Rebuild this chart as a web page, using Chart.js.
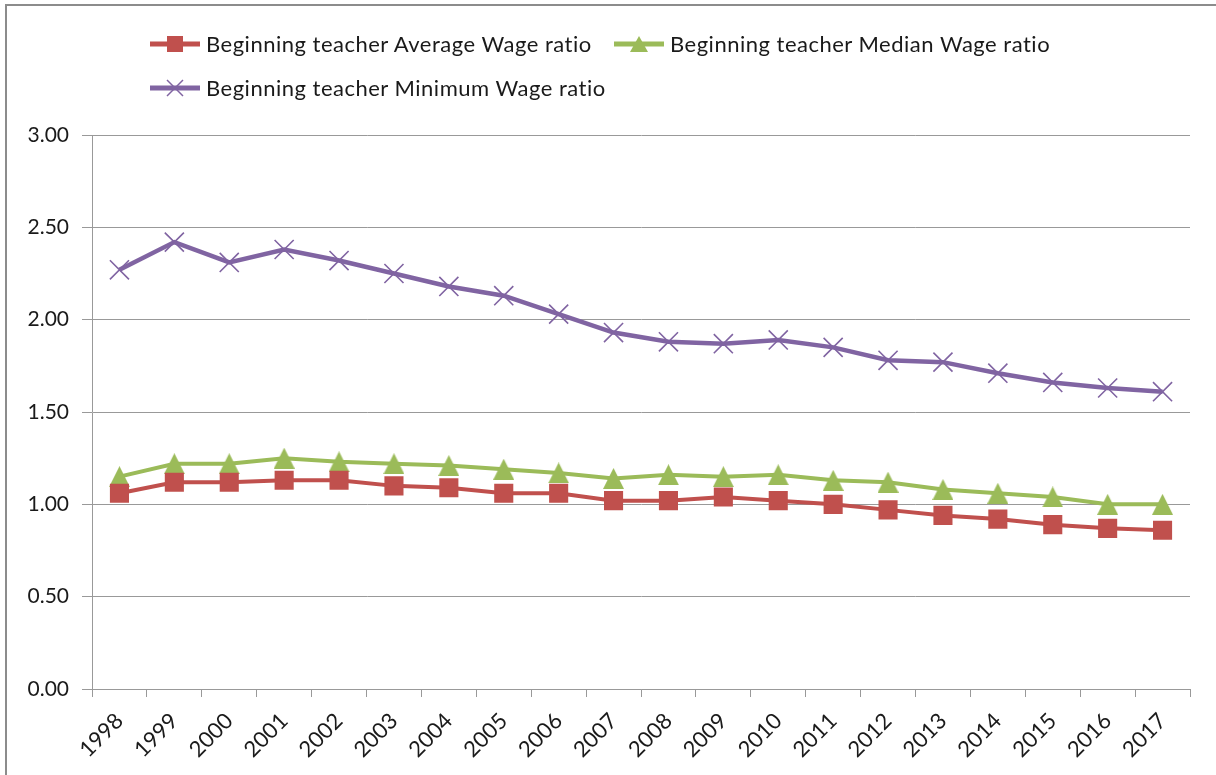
<!DOCTYPE html>
<html>
<head>
<meta charset="utf-8">
<script src="https://cdn.jsdelivr.net/npm/chart.js@4.4.0/dist/chart.umd.min.js"></script>
<style>
  html, body { margin: 0; padding: 0; background: #fff; }
  #wrap { position: relative; width: 1216px; height: 775px; overflow: hidden; }
  #frame { position: absolute; left: 5px; top: 4px; width: 1300px; height: 900px;
           border-left: 2px solid #8c8c8c; border-top: 2px solid #8c8c8c; pointer-events: none; }
  canvas { position: absolute; left: 0; top: 0; }
  .lg { position: absolute; font-family: Lato, "Open Sans", sans-serif; font-size: 22px; color: #1a1a1a;
        letter-spacing: 0.5px; white-space: nowrap; line-height: 24px; }
  .lg svg { position: absolute; left: 0; top: 0; }
  .lg span { position: absolute; left: 56px; top: 0; }
</style>
</head>
<body>
<div id="wrap">
  <canvas id="c" width="1216" height="775"></canvas>
  <div id="frame"></div>
  <div id="legend"></div>
</div>
<script>
const years = ["1998","1999","2000","2001","2002","2003","2004","2005","2006","2007","2008","2009","2010","2011","2012","2013","2014","2015","2016","2017"];
const averageRatio = [1.06, 1.12, 1.12, 1.13, 1.13, 1.10, 1.09, 1.06, 1.06, 1.02, 1.02, 1.04, 1.02, 1.00, 0.97, 0.94, 0.92, 0.89, 0.87, 0.86];
const medianRatio  = [1.15, 1.22, 1.22, 1.25, 1.23, 1.22, 1.21, 1.19, 1.17, 1.14, 1.16, 1.15, 1.16, 1.13, 1.12, 1.08, 1.06, 1.04, 1.00, 1.00];
const minimumRatio = [2.27, 2.42, 2.31, 2.38, 2.32, 2.25, 2.18, 2.13, 2.03, 1.93, 1.88, 1.87, 1.89, 1.85, 1.78, 1.77, 1.71, 1.66, 1.63, 1.61];
const seriesNames = ["Beginning teacher Average Wage ratio", "Beginning teacher Median Wage ratio", "Beginning teacher Minimum Wage ratio"];
const yTicks = [0, 0.5, 1, 1.5, 2, 2.5, 3];

const RED = "#C0504D", GREEN = "#9BBB59", PURPLE = "#8064A2";

function makeTriangle(w, h, color) {
  const c = document.createElement("canvas");
  c.width = w; c.height = h;
  const g = c.getContext("2d");
  g.fillStyle = color;
  g.beginPath();
  g.moveTo(w / 2, 0);
  g.lineTo(w, h);
  g.lineTo(0, h);
  g.closePath();
  g.fill();
  return c;
}
const triImg = makeTriangle(21, 21, GREEN);

const ctx = document.getElementById("c").getContext("2d");
new Chart(ctx, {
  type: "line",
  data: {
    labels: years,
    datasets: [
      { label: seriesNames[0], data: averageRatio, borderColor: RED, backgroundColor: RED,
        borderWidth: 4, pointStyle: "rect", pointRadius: 13.5, pointBorderWidth: 0,
        pointBackgroundColor: RED, tension: 0, order: 1 },
      { label: seriesNames[1], data: medianRatio, borderColor: GREEN, backgroundColor: GREEN,
        borderWidth: 4, pointStyle: triImg, pointRadius: 10, tension: 0, order: 2 },
      { label: seriesNames[2], data: minimumRatio, borderColor: PURPLE, backgroundColor: PURPLE,
        borderWidth: 4.5, pointStyle: "crossRot", pointRadius: 13.5, pointBorderWidth: 1.6,
        pointBorderColor: PURPLE, tension: 0, order: 3 }
    ]
  },
  options: {
    responsive: false,
    animation: false,
    devicePixelRatio: 1,
    layout: { padding: { top: 135, right: 26, left: 0, bottom: 0 } },
    plugins: { legend: { display: false }, tooltip: { enabled: false } },
    scales: {
      x: {
        offset: true,
        grid: { offset: true, drawOnChartArea: false, drawTicks: true, tickLength: 8, color: "#999", lineWidth: 1 },
        border: { display: true, color: "#999", width: 1 },
        ticks: { minRotation: 45, maxRotation: 45, autoSkip: false, padding: 11, color: "#1a1a1a",
                 font: { family: "Lato", size: 22 } },
        afterFit(scale) { scale.height = 86; }
      },
      y: {
        min: 0, max: 3,
        afterBuildTicks(scale) { scale.ticks = yTicks.map(v => ({ value: v })); },
        grid: { color: "#999", lineWidth: 1, drawTicks: true, tickLength: 10 },
        border: { display: true, color: "#999", width: 1 },
        ticks: { padding: 13, color: "#1a1a1a", font: { family: "Lato", size: 21 },
                 callback: v => Number(v).toFixed(2) },
        afterFit(scale) { scale.width = 92; }
      }
    }
  }
});

// HTML legend (Excel-like, left aligned rows)
const legendDefs = [
  { name: seriesNames[0], color: RED, marker: "rect", left: 150, top: 32 },
  { name: seriesNames[1], color: GREEN, marker: "tri", left: 614, top: 32 },
  { name: seriesNames[2], color: PURPLE, marker: "x", left: 150, top: 76 }
];
const lg = document.getElementById("legend");
legendDefs.forEach(d => {
  const el = document.createElement("div");
  el.className = "lg";
  el.style.left = d.left + "px";
  el.style.top = d.top + "px";
  let m = "";
  if (d.marker === "rect") m = `<rect x="17" y="4" width="16" height="16" fill="${d.color}"/>`;
  if (d.marker === "tri") m = `<polygon points="25,4 34,20 16,20" fill="${d.color}"/>`;
  if (d.marker === "x") m = `<path d="M17 4 L33 20 M33 4 L17 20" stroke="${d.color}" stroke-width="1.5"/>`;
  el.innerHTML = `<svg width="52" height="24"><line x1="0" y1="12" x2="50" y2="12" stroke="${d.color}" stroke-width="5"/>${m}</svg><span>${d.name}</span>`;
  lg.appendChild(el);
});
</script>
</body>
</html>
